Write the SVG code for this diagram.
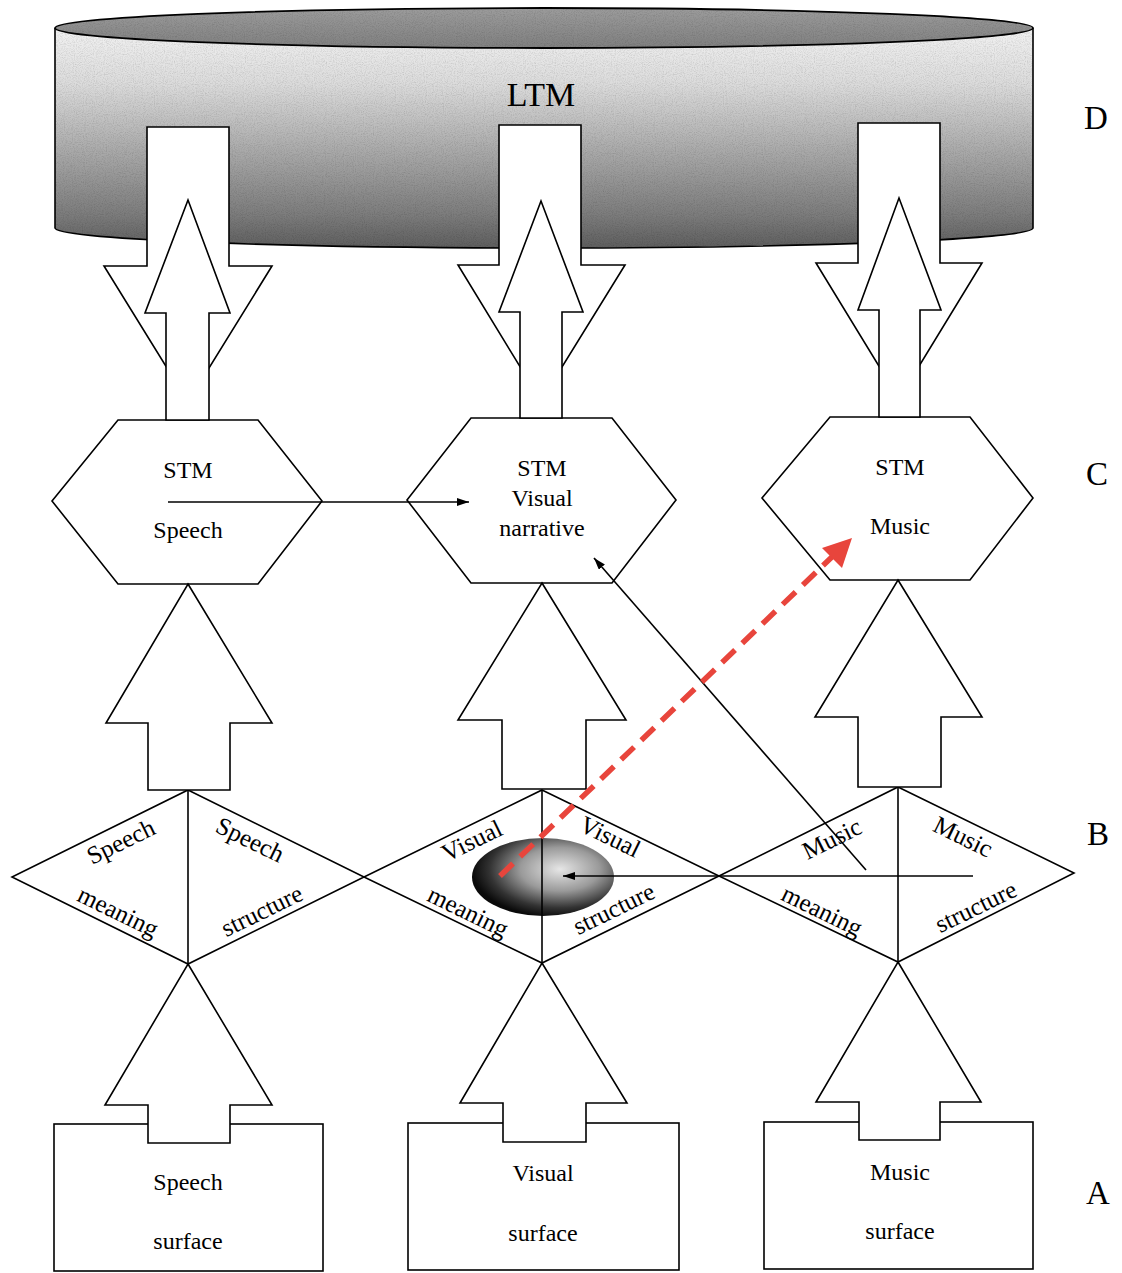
<svg xmlns="http://www.w3.org/2000/svg" width="1122" height="1273" viewBox="0 0 1122 1273">
<style>
.s{fill:#fff;stroke:#000;stroke-width:1.6;stroke-linejoin:miter}
.t{font-family:"Liberation Serif","Times New Roman",serif;font-size:24px;fill:#000;text-anchor:middle}
.d{font-family:"Liberation Serif","Times New Roman",serif;font-size:25px;fill:#000;text-anchor:middle}
.lv{font-family:"Liberation Serif","Times New Roman",serif;font-size:33px;fill:#000;text-anchor:middle}
.ln{fill:none;stroke:#000;stroke-width:1.6}
</style>
<defs>
<linearGradient id="body" x1="0" y1="0" x2="0" y2="1">
<stop offset="0" stop-color="#f2f2f2"/>
<stop offset="0.25" stop-color="#dcdcdc"/>
<stop offset="0.55" stop-color="#ababab"/>
<stop offset="0.85" stop-color="#7c7c7c"/>
<stop offset="1" stop-color="#5e5e5e"/>
</linearGradient>
<linearGradient id="topg" x1="0" y1="0" x2="0" y2="1">
<stop offset="0" stop-color="#9c9c9c"/>
<stop offset="1" stop-color="#808080"/>
</linearGradient>
<radialGradient id="oval" cx="0.62" cy="0.4" r="0.62">
<stop offset="0" stop-color="#e6e6e6"/>
<stop offset="0.45" stop-color="#9a9a9a"/>
<stop offset="0.8" stop-color="#333"/>
<stop offset="1" stop-color="#0a0a0a"/>
</radialGradient>
<filter id="grain" x="0" y="0" width="1" height="1">
<feTurbulence type="fractalNoise" baseFrequency="0.9" numOctaves="2" seed="3" result="n"/>
<feColorMatrix in="n" type="saturate" values="0" result="g"/>
<feComponentTransfer in="g" result="h">
<feFuncR type="linear" slope="0.7" intercept="0.6"/>
<feFuncG type="linear" slope="0.7" intercept="0.6"/>
<feFuncB type="linear" slope="0.7" intercept="0.6"/>
<feFuncA type="linear" slope="0" intercept="1"/>
</feComponentTransfer>
<feBlend in="SourceGraphic" in2="h" mode="multiply" result="b"/>
<feComposite in="b" in2="SourceGraphic" operator="in"/>
</filter>
<marker id="ah" viewBox="0 0 12 8" refX="12" refY="4" markerWidth="12" markerHeight="8" markerUnits="userSpaceOnUse" orient="auto">
<path d="M0,0 L12,4 L0,8 Z" fill="#000"/>
</marker>
</defs>

<g id="ltm">
<path d="M55,28 L55,228 A489,20 0 0 0 1033,228 L1033,28 Z" fill="url(#body)" filter="url(#grain)"/>
<ellipse cx="544" cy="28" rx="489" ry="20" fill="url(#topg)" filter="url(#grain)"/>
<path d="M55,28 L55,228 A489,20 0 0 0 1033,228 L1033,28" fill="none" stroke="#000" stroke-width="1.6"/>
<ellipse cx="544" cy="28" rx="489" ry="20" fill="none" stroke="#000" stroke-width="1.8"/>
<text class="t" x="541" y="106" style="font-size:34px">LTM</text>
</g>

<g id="levels">
<text class="lv" x="1096" y="129">D</text>
<text class="lv" x="1097" y="485">C</text>
<text class="lv" x="1098" y="845">B</text>
<text class="lv" x="1098" y="1204">A</text>
</g>

<g id="stm-speech">
<polygon class="s" points="118,420 258,420 322,501 258,584 118,584 52,501"/>
<text class="t" x="188" y="478">STM</text>
<text class="t" x="188" y="538">Speech</text>
</g>
<g id="stm-visual">
<polygon class="s" points="471,418 612,418 676,500 612,583 471,583 407,500"/>
<text class="t" x="542" y="476">STM</text>
<text class="t" x="542" y="506">Visual</text>
<text class="t" x="542" y="536">narrative</text>
</g>
<g id="stm-music">
<polygon class="s" points="830,417 970,417 1033,498 970,580 830,580 762,498"/>
<text class="t" x="900" y="475">STM</text>
<text class="t" x="900" y="534">Music</text>
</g>

<g id="proc-speech">
<polygon class="s" points="188,790 364,877 188,964 12,877"/>
<line class="ln" x1="188" y1="790" x2="188" y2="964"/>
<text class="d" transform="translate(121,842) rotate(-26)" x="0" y="8">Speech</text>
<text class="d" transform="translate(250,840) rotate(26)" x="0" y="8">Speech</text>
<text class="d" transform="translate(118,912) rotate(26)" x="0" y="8">meaning</text>
<text class="d" transform="translate(262,911) rotate(-26)" x="0" y="8">structure</text>
</g>
<g id="proc-visual">
<polygon class="s" points="542,790 719,876 542,963 364,877"/>
<ellipse cx="543" cy="877" rx="71" ry="39" fill="url(#oval)"/>
<line class="ln" x1="542" y1="790" x2="542" y2="963"/>
<text class="d" transform="translate(472,841) rotate(-26)" x="0" y="8">Visual</text>
<text class="d" transform="translate(610,837) rotate(26)" x="0" y="8">Visual</text>
<text class="d" transform="translate(468,912) rotate(26)" x="0" y="8">meaning</text>
<text class="d" transform="translate(614,909) rotate(-26)" x="0" y="8">structure</text>
</g>
<g id="proc-music">
<polygon class="s" points="898,787 1074,873 898,962 719,876"/>
<line class="ln" x1="898" y1="787" x2="898" y2="962"/>
<text class="d" transform="translate(832,839) rotate(-26)" x="0" y="8">Music</text>
<text class="d" transform="translate(963,837) rotate(26)" x="0" y="8">Music</text>
<text class="d" transform="translate(822,911) rotate(26)" x="0" y="8">meaning</text>
<text class="d" transform="translate(976,907) rotate(-26)" x="0" y="8">structure</text>
</g>

<g id="surf-speech">
<rect class="s" x="54" y="1124" width="269" height="147"/>
<text class="t" x="188" y="1190">Speech</text>
<text class="t" x="188" y="1249">surface</text>
</g>
<g id="surf-visual">
<rect class="s" x="408" y="1123" width="271" height="147"/>
<text class="t" x="543" y="1181">Visual</text>
<text class="t" x="543" y="1241">surface</text>
</g>
<g id="surf-music">
<rect class="s" x="764" y="1122" width="269" height="147"/>
<text class="t" x="900" y="1180">Music</text>
<text class="t" x="900" y="1239">surface</text>
</g>

<g id="connectors">
<polygon class="s" points="147,127 229,127 229,266 272,266 188,402 104,266 147,266"/>
<polygon class="s" points="188,200 230,313 209,313 209,420 166,420 166,313 145,313"/>
<polygon class="s" points="499,125 581,125 581,265 625,265 541,401 458,265 499,265"/>
<polygon class="s" points="541,201 583,312 562,312 562,418 520,418 520,312 499,312"/>
<polygon class="s" points="858,123 940,123 940,263 982,263 899,399 816,263 858,263"/>
<polygon class="s" points="899,198 941,310 920,310 920,417 879,417 879,310 858,310"/>
<polygon class="s" points="188,584 272,723 230,723 230,790 148,790 148,723 106,723"/>
<polygon class="s" points="542,583 626,720 586,720 586,789 502,789 502,720 458,720"/>
<polygon class="s" points="898,580 982,717 941,717 941,787 858,787 858,717 815,717"/>
<polygon class="s" points="188,964 272,1105 230,1105 230,1143 148,1143 148,1105 105,1105"/>
<polygon class="s" points="542,963 627,1103 586,1103 586,1142 503,1142 503,1103 460,1103"/>
<polygon class="s" points="898,962 981,1102 940,1102 940,1140 859,1140 859,1102 816,1102"/>
<line class="ln" x1="168" y1="502" x2="469" y2="502" marker-end="url(#ah)"/>
<line class="ln" x1="866" y1="870" x2="594" y2="558" marker-end="url(#ah)"/>
<line class="ln" x1="973" y1="876" x2="563" y2="876" marker-end="url(#ah)"/>
<line x1="500" y1="876" x2="834" y2="555" stroke="#e8453c" stroke-width="5.5" stroke-dasharray="18,10"/>
<polygon points="852,538 842,568 822,548" fill="#e8453c"/>
</g>
</svg>
